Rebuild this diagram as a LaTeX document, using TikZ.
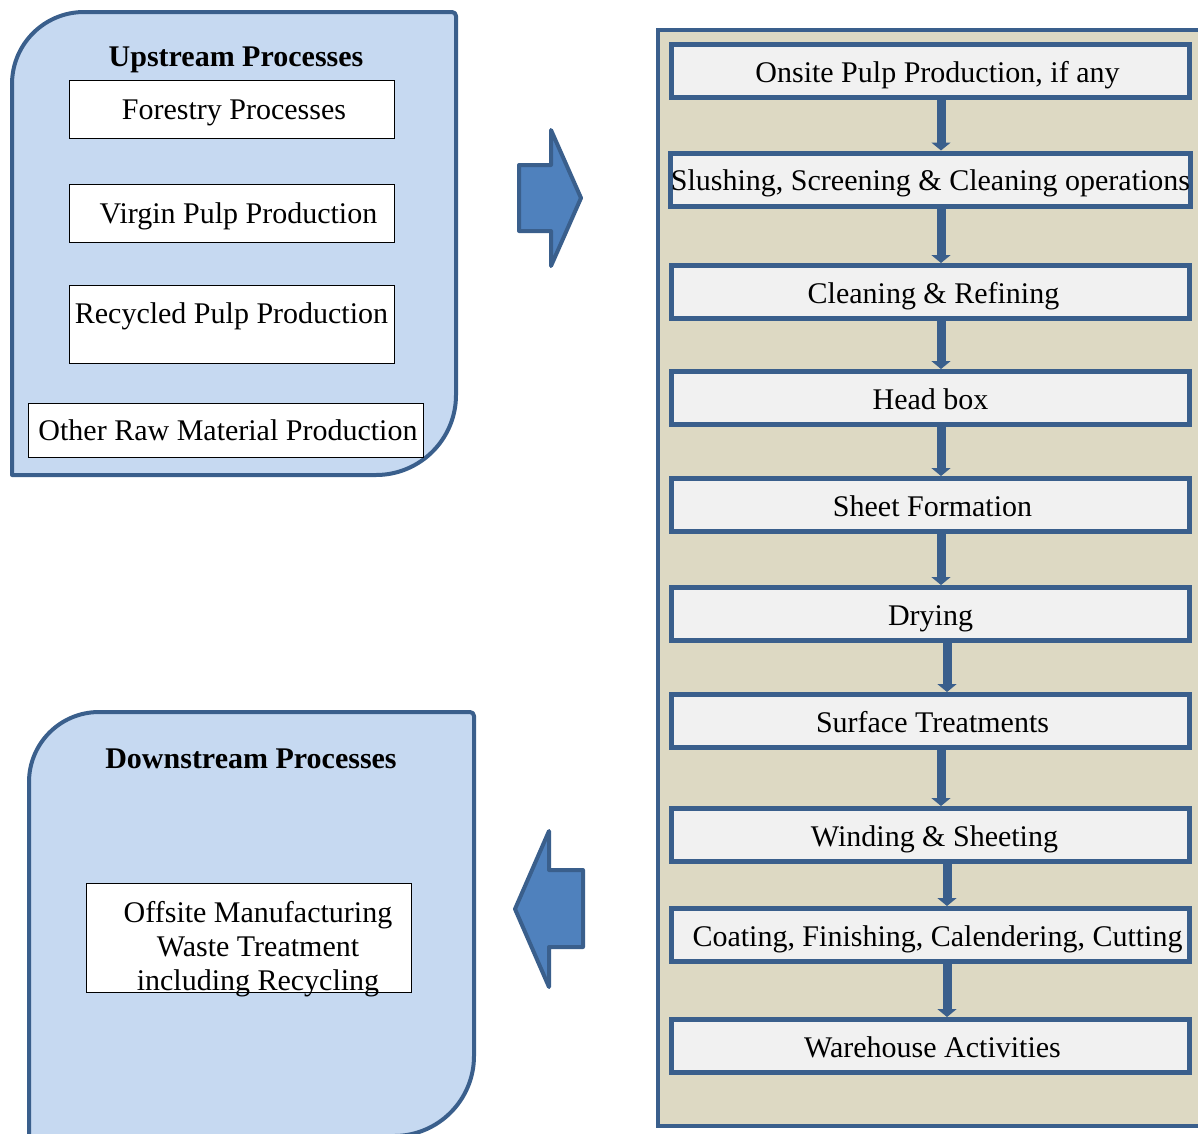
\documentclass[tikz,border=0pt]{standalone}
\usepackage{fontspec}
\setmainfont{Liberation Serif}
\usetikzlibrary{arrows.meta}
\definecolor{panelblue}{RGB}{198,217,241}
\definecolor{edgeblue}{RGB}{58,95,140}
\definecolor{arrowblue}{RGB}{79,129,189}
\definecolor{paneltan}{RGB}{221,217,195}
\definecolor{boxgrey}{RGB}{241,241,241}
\begin{document}
\begin{tikzpicture}[x=1pt,y=1pt,
	every node/.style={font=\fontsize{30}{34}\selectfont},
	title/.style={font=\fontsize{30}{34}\selectfont\bfseries},
	panel/.style={draw=edgeblue,line width=4pt,fill=panelblue,line join=round},
	ubox/.style={draw=black,line width=1pt,fill=white,minimum width=325pt,inner sep=0pt,
		text height=20pt,text depth=0pt},
	pbox/.style={draw=edgeblue,line width=5pt,fill=boxgrey,minimum width=518pt,minimum height=53pt,
		inner sep=0pt,text height=22pt,text depth=0pt},
	flow/.style={draw=edgeblue,line width=9pt,-{Triangle[width=19pt,length=8pt]}},
	bigarrow/.style={draw=edgeblue,line width=4pt,fill=arrowblue,line join=round}]
\clip (0,0) rectangle (1198,-1133);
% upstream panel
\draw[panel] (12,-475) -- (12,-84) arc[start angle=180,end angle=90,radius=72]
	-- (452,-12) arc[start angle=90,end angle=0,radius=4]
	-- (456,-395) arc[start angle=0,end angle=-90,radius=80] -- cycle;
\node[title] (up) at (236,-60) {Upstream Processes};
\node[ubox,minimum height=58pt] (forest) at (231.5,-109) {\hspace{5pt}Forestry Processes};
\node[ubox,minimum height=58pt] (virgin) at (231.5,-213) {\hspace{14pt}Virgin Pulp Production};
\node[ubox,minimum height=78pt,text depth=22pt] (recyc) at (231.5,-324) {Recycled Pulp Production};
\node[ubox,minimum height=54pt,minimum width=395pt] (other) at (225.5,-430) {\hspace{5pt}Other Raw Material Production};

% downstream panel
\draw[panel] (29,-1136) -- (29,-782) arc[start angle=180,end angle=90,radius=70]
	-- (470,-712) arc[start angle=90,end angle=0,radius=4]
	-- (474,-1056) arc[start angle=0,end angle=-90,radius=80] -- cycle;
\node[title] (down) at (251,-759) {Downstream Processes};
\node[ubox,minimum height=109pt] (offsite) at (248.5,-937.5) {};
\node[align=center,inner sep=0pt] (offtext) at (258,-949) {Offsite Manufacturing\\Waste Treatment\\including Recycling};

% big arrows
\draw[bigarrow] (519,-165) -- (551,-165) -- (551,-130) -- (581,-198) -- (551,-266)
	-- (551,-231) -- (519,-231) -- cycle;
\draw[bigarrow] (515,-909) -- (549,-831) -- (549,-870) -- (583,-870) -- (583,-947)
	-- (549,-947) -- (549,-987) -- cycle;

% mill panel
\draw[draw=edgeblue,line width=4pt,fill=paneltan] (658,-30) rectangle (1220,-1126);
\node[pbox] (onsite) at (930.5,-71) {\hspace{14pt}Onsite Pulp Production, if any};
\node[pbox] (slush) at (930.5,-179.5) {Slushing, Screening \& Cleaning operations};
\node[pbox] (clean) at (930.5,-292) {\hspace{6pt}Cleaning \& Refining};
\node[pbox] (head) at (930.5,-398) {Head box};
\node[pbox] (sheet) at (930.5,-505) {\hspace{4pt}Sheet Formation};
\node[pbox] (dry) at (930.5,-614) {Drying};
\node[pbox] (surf) at (930.5,-721) {\hspace{4pt}Surface Treatments};
\node[pbox] (wind) at (930.5,-835) {\hspace{8pt}Winding \& Sheeting};
\node[pbox] (coat) at (930.5,-935) {\hspace{14pt}Coating, Finishing, Calendering, Cutting};
\node[pbox] (ware) at (930.5,-1046) {\hspace{4pt}Warehouse Activities};
\foreach \a/\b/\s in {onsite/slush/10.5,slush/clean/10.5,clean/head/10.5,head/sheet/10.5,
	sheet/dry/10.5,dry/surf/16.5,surf/wind/10.5,wind/coat/16.5,coat/ware/16.5}
	\draw[flow] ([xshift=\s pt]\a.south) -- ([xshift=\s pt]\b.north);
\end{tikzpicture}
\end{document}
